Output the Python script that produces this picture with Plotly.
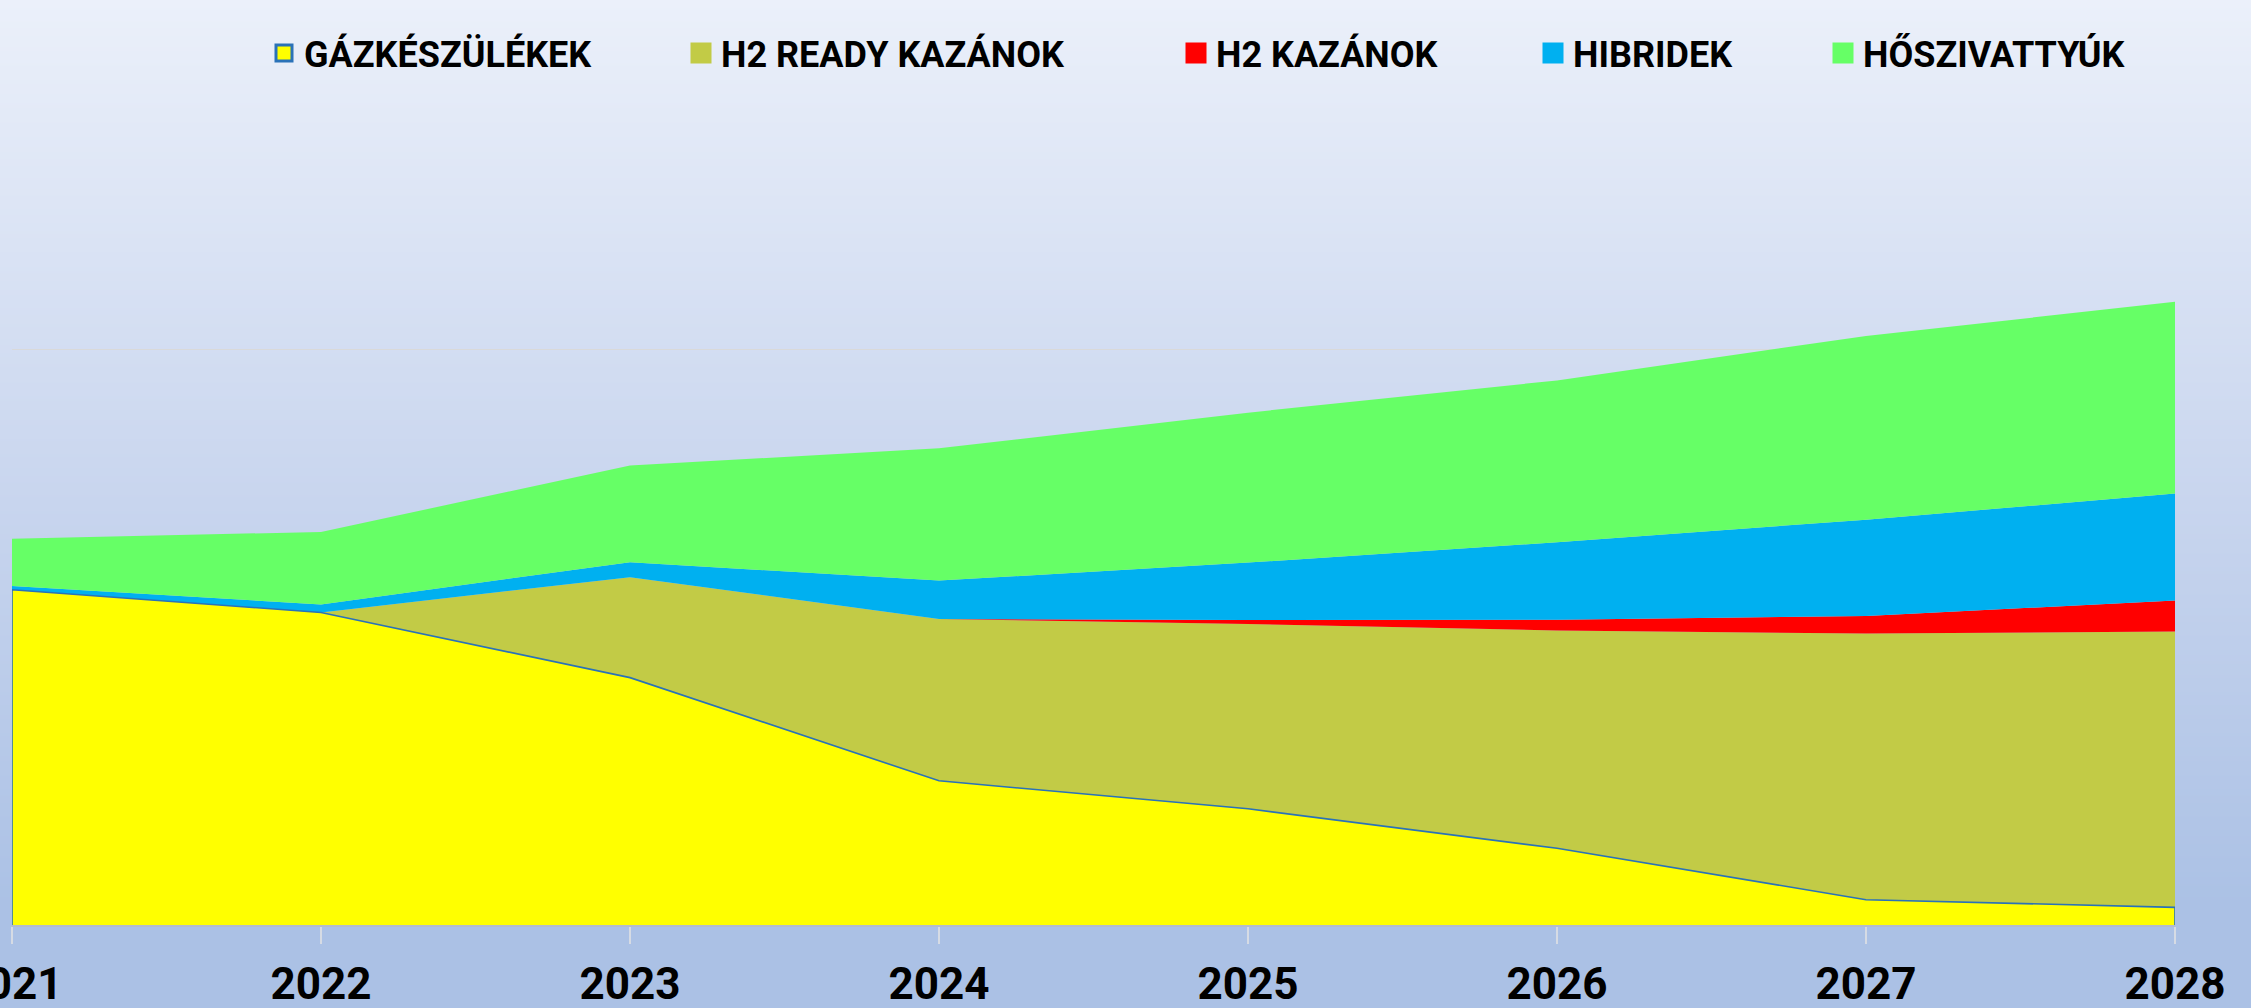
import base64
import struct
import zlib

import plotly.graph_objects as go

# ---------------- data ----------------
years = [2021, 2022, 2023, 2024, 2025, 2026, 2027, 2028]
year_labels = ["2021", "2022", "2023", "2024", "2025", "2026", "2027", "2028"]

gazkeszulekek = [87.4, 81.5, 64.5, 37.6, 30.3, 20.0, 6.6, 4.6]
h2_ready_kazanok = [0.0, 0.0, 26.2, 42.2, 48.2, 56.8, 69.4, 71.9]
h2_kazanok = [0.0, 0.0, 0.0, 0.0, 1.0, 2.8, 4.6, 8.1]
hibridek = [1.0, 2.1, 3.9, 10.0, 15.0, 20.2, 25.1, 27.9]
hoszivattyuk = [12.3, 18.9, 25.2, 34.5, 39.1, 42.2, 47.9, 50.0]

series_names = ["GÁZKÉSZÜLÉKEK", "H2 READY KAZÁNOK", "H2 KAZÁNOK", "HIBRIDEK", "HŐSZIVATTYÚK"]
series_values = [gazkeszulekek, h2_ready_kazanok, h2_kazanok, hibridek, hoszivattyuk]
series_colors = ["#FFFF00", "#C2CB46", "#FF0000", "#00B0F0", "#66FF66"]
outline_color = "#2A72B8"

# ---------------- figure geometry ----------------
W, H = 2251, 1008
ML, MR, MT, MB = 12, 76, 158, 83
PW, PH = W - ML - MR, H - MT - MB

FONT = "Roboto, Liberation Sans, Arial, sans-serif"


def gradient_png(height, stops):
    rows = bytearray()
    for i in range(height):
        t = i / (height - 1)
        for k in range(len(stops) - 1):
            t0, c0 = stops[k]
            t1, c1 = stops[k + 1]
            if t0 <= t <= t1:
                f = 0 if t1 == t0 else (t - t0) / (t1 - t0)
                c = [round(c0[j] + (c1[j] - c0[j]) * f) for j in range(3)]
                break
        rows += b"\x00" + bytes(c + c)

    def chunk(tag, data):
        return (struct.pack(">I", len(data)) + tag + data
                + struct.pack(">I", zlib.crc32(tag + data) & 0xFFFFFFFF))

    ihdr = struct.pack(">IIBBBBB", 2, height, 8, 2, 0, 0, 0)
    png = (b"\x89PNG\r\n\x1a\n" + chunk(b"IHDR", ihdr)
           + chunk(b"IDAT", zlib.compress(bytes(rows))) + chunk(b"IEND", b""))
    return "data:image/png;base64," + base64.b64encode(png).decode()


bg = gradient_png(H, [(0.0, (235, 240, 250)), (0.5, (200, 213, 238)),
                      (0.9, (171, 193, 229)), (1.0, (171, 193, 229))])

fig = go.Figure()

# stacked areas
for name, vals, col in zip(series_names, series_values, series_colors):
    fig.add_trace(go.Scatter(
        x=years, y=vals, name=name, stackgroup="one", mode="none",
        fillcolor=col, line=dict(width=0), showlegend=False,
        hovertemplate=name + ": %{y}<extra></extra>",
    ))

# outline of the first series (top edge plus the two vertical edges)
fig.add_trace(go.Scatter(
    x=[years[0]] + years + [years[-1]],
    y=[0] + gazkeszulekek + [0],
    mode="lines", line=dict(color=outline_color, width=1.6),
    showlegend=False, hoverinfo="skip",
))

# legend entries (square swatches), one legend box each
legend_text_x = [304, 721, 1216, 1573, 1863]
legend_ids = ["legend", "legend2", "legend3", "legend4", "legend5"]
for name, col, lid in zip(series_names, series_colors, legend_ids):
    border = outline_color if col == "#FFFF00" else col
    bw = 3 if col == "#FFFF00" else 5
    fig.add_trace(go.Scatter(
        x=[None], y=[None], name=name, mode="markers", legend=lid,
        marker=dict(symbol="square", size=16, color=col,
                    line=dict(color=border, width=bw)),
        showlegend=True, hoverinfo="skip",
    ))

legend_layout = {}
for lid, tx in zip(legend_ids, legend_text_x):
    legend_layout[lid] = dict(
        x=(tx - 40 - ML) / PW, y=(H - MB - 53) / PH,
        xanchor="left", yanchor="middle", orientation="h",
        bgcolor="rgba(0,0,0,0)", borderwidth=0,
        font=dict(family=FONT, size=36, color="#000000", weight="bold"),
        itemclick=False, itemdoubleclick=False,
    )

fig.update_layout(
    width=W, height=H,
    margin=dict(l=ML, r=MR, t=MT, b=MB, autoexpand=False),
    paper_bgcolor="rgba(0,0,0,0)",
    plot_bgcolor="rgba(0,0,0,0)",
    showlegend=True,
    images=[dict(
        source=bg, xref="paper", yref="paper",
        x=-ML / PW, y=(H - MB) / PH, xanchor="left", yanchor="top",
        sizex=W / PW, sizey=H / PH, sizing="stretch", layer="below",
    )],
    xaxis=dict(
        range=[years[0], years[-1]], tickmode="array",
        tickvals=years, ticktext=year_labels,
        showgrid=False, zeroline=False,
        showline=True, linecolor="#B4BCCB", linewidth=1.5,
        ticks="outside", ticklen=17, tickwidth=2, tickcolor="#D6DBE4",
        tickfont=dict(family=FONT, size=44, color="#000000", weight="bold"),
        ticklabelstandoff=2, ticklabeloverflow="allow",
    ),
    yaxis=dict(
        range=[0, 200], dtick=50, tick0=0,
        showgrid=True, gridcolor="#D9D9D9", gridwidth=1.2,
        zeroline=False, showline=False, showticklabels=False, ticks="",
    ),
    **legend_layout,
)

fig.write_html(
    "out.html",
    config={"displayModeBar": False},
    post_script="document.body.style.margin='0px';document.body.style.overflow='hidden';",
)
